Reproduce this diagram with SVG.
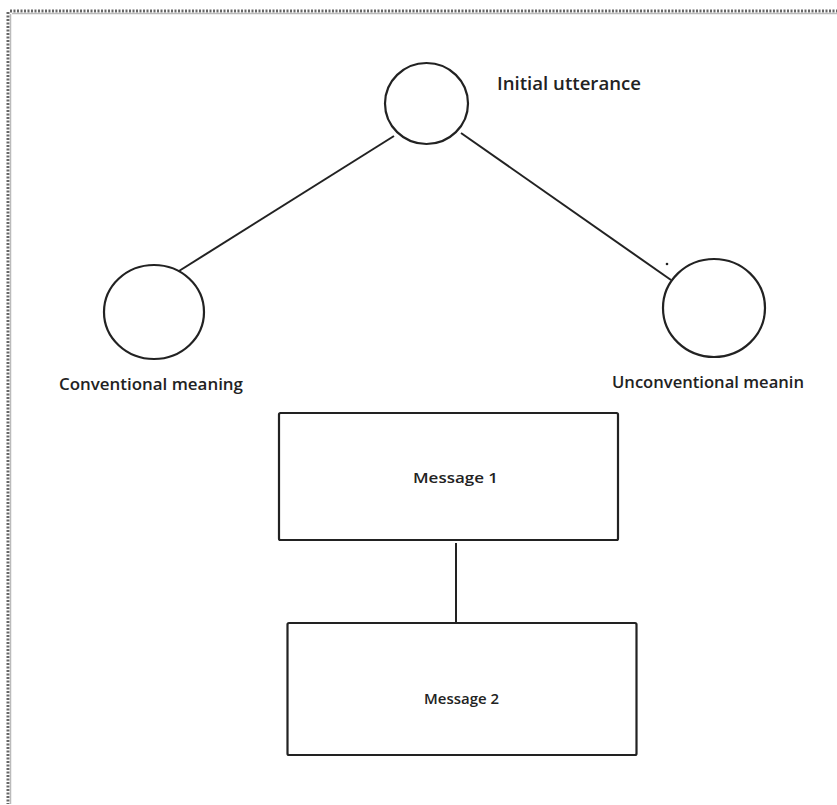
<svg xmlns="http://www.w3.org/2000/svg" width="837" height="805" viewBox="0 0 837 805">
<style>
.shape{fill:#fff;stroke:#222;stroke-width:2.2}
.edge{stroke:#222;stroke-width:2;fill:none}
.lbl{font-family:"Open Sans","Noto Sans",sans-serif;fill:#222;font-weight:600}
</style>
<rect width="837" height="805" fill="#fff"/>
<g id="frame">
<line x1="10" y1="11" x2="837" y2="11" stroke="#666" stroke-width="3" stroke-dasharray="2 1.5"/>
<line x1="12" y1="13.5" x2="837" y2="13.5" stroke="#bbb" stroke-width="1.5"/>
<line x1="8" y1="12" x2="8" y2="804" stroke="#666" stroke-width="3" stroke-dasharray="2 1.5"/>
<line x1="10.5" y1="14" x2="10.5" y2="804" stroke="#bbb" stroke-width="1.5"/>
</g>
<g id="connectors">
<line class="edge" x1="394" y1="136" x2="179" y2="271"/>
<line class="edge" x1="461" y1="133" x2="671" y2="280"/>
<line class="edge" x1="456" y1="543" x2="456" y2="622"/>
</g>
<g id="initial-utterance">
<ellipse class="shape" cx="426.5" cy="103.5" rx="41.5" ry="40.5"/>
<text class="lbl" x="497" y="90" font-size="18.5" textLength="144" lengthAdjust="spacingAndGlyphs">Initial utterance</text>
</g>
<g id="conventional-meaning">
<ellipse class="shape" cx="154" cy="312" rx="50" ry="47"/>
<text class="lbl" x="59" y="390" font-size="16.5" textLength="184" lengthAdjust="spacingAndGlyphs">Conventional meaning</text>
</g>
<g id="unconventional-meaning">
<ellipse class="shape" cx="714" cy="308" rx="51" ry="49"/>
<circle cx="667" cy="264" r="1.3" fill="#222"/>
<text class="lbl" x="612" y="388" font-size="16.5" textLength="192" lengthAdjust="spacingAndGlyphs">Unconventional meanin</text>
</g>
<g id="message-1">
<rect class="shape" x="279" y="413" width="339" height="127" rx="1.5"/>
<text class="lbl" x="413" y="483" font-size="15" textLength="85" lengthAdjust="spacingAndGlyphs">Message 1</text>
</g>
<g id="message-2">
<rect class="shape" x="287.5" y="623" width="349" height="132" rx="1.5"/>
<text class="lbl" x="424" y="704" font-size="13.5" textLength="75" lengthAdjust="spacingAndGlyphs">Message 2</text>
</g>
</svg>
